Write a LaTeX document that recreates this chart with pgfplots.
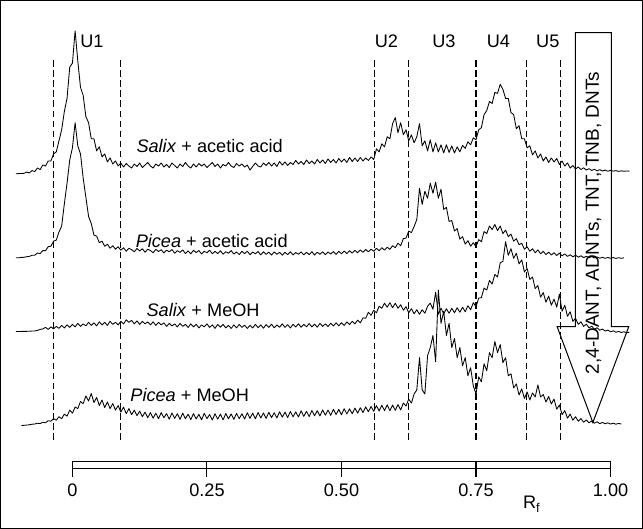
\documentclass[border=0pt]{standalone}
\usepackage{fontspec}
\setmainfont{Liberation Sans}
\usepackage{pgfplots}
\usepackage{pgfplotstable}
\pgfplotsset{compat=1.18}

% x = Rf ; a = Salix+acetic acid, b = Picea+acetic acid, c = Salix+MeOH, d = Picea+MeOH
% (trace heights in picture units, measured downward)
\pgfplotstableread{
x a b c d
-0.105 177.7 261.0 334.0 nan
-0.100 177.5 261.0 334.0 nan
-0.095 177.4 260.6 334.0 427.3
-0.090 177.3 260.5 333.9 427.1
-0.085 176.0 259.9 333.9 426.8
-0.080 176.8 259.6 333.8 426.6
-0.075 174.5 258.5 333.6 426.0
-0.070 175.5 258.4 333.5 425.8
-0.065 172.0 256.3 333.0 425.0
-0.060 173.5 256.8 332.0 425.4
-0.055 169.0 253.8 331.5 424.0
-0.050 170.0 254.0 330.0 424.6
-0.045 165.0 250.0 332.0 422.5
-0.040 165.0 249.5 329.5 423.0
-0.035 158.0 244.5 331.5 420.5
-0.030 156.0 243.5 329.0 422.0
-0.025 145.0 235.5 331.0 418.5
-0.020 134.0 229.5 328.0 420.5
-0.015 116.0 207.5 330.5 416.0
-0.010 103.0 187.0 327.5 418.0
-0.005 72.0 164.0 330.0 412.0
0.000 68.0 152.0 327.0 415.0
0.005 36.0 127.0 329.5 409.0
0.010 66.0 150.0 326.0 410.5
0.015 92.0 158.0 329.0 403.5
0.020 100.0 182.0 326.5 405.5
0.025 121.0 201.0 328.5 398.0
0.030 127.0 220.0 325.0 403.0
0.035 143.0 227.0 328.0 395.5
0.040 143.0 238.5 325.5 404.5
0.045 155.0 239.5 328.5 399.5
0.050 151.0 246.0 324.5 407.5
0.055 161.0 244.5 327.5 402.0
0.060 158.0 249.5 325.0 409.5
0.065 166.0 247.5 328.0 404.0
0.070 162.0 251.5 324.0 410.5
0.075 168.0 249.0 327.0 405.5
0.080 165.0 252.5 325.0 412.0
0.085 170.0 250.0 327.5 407.5
0.090 167.0 253.5 324.0 414.0
0.095 171.0 251.0 326.5 409.0
0.100 167.5 254.5 322.5 415.5
0.105 170.0 251.5 325.0 410.5
0.110 172.0 253.0 323.0 416.5
0.115 168.0 255.0 326.5 412.0
0.120 170.5 251.8 323.5 417.5
0.125 167.0 254.2 327.0 413.0
0.130 171.5 252.0 324.0 418.5
0.135 169.0 255.5 326.5 414.0
0.140 166.5 252.5 324.5 419.5
0.145 170.0 253.8 327.5 414.5
0.150 172.0 256.0 324.5 420.0
0.155 168.0 252.6 328.0 415.0
0.160 170.0 254.8 325.0 420.5
0.165 167.0 253.0 327.5 414.5
0.170 171.0 256.2 325.5 419.5
0.175 168.5 253.4 329.0 415.5
0.180 171.5 255.0 326.0 421.0
0.185 167.0 252.8 328.5 414.8
0.190 169.5 256.5 326.5 420.2
0.195 172.0 254.0 329.5 415.6
0.200 168.0 255.6 326.0 421.2
0.205 170.5 253.2 329.0 415.0
0.210 166.5 256.8 327.0 420.6
0.215 170.0 254.2 330.0 416.0
0.220 172.0 257.0 326.5 421.5
0.225 168.0 253.6 329.5 415.4
0.230 171.0 255.8 327.0 420.8
0.235 167.5 253.8 330.5 416.2
0.240 170.0 257.2 327.5 421.6
0.245 168.0 254.6 329.5 415.2
0.250 171.5 256.0 326.5 420.4
0.255 169.0 253.5 330.0 416.4
0.260 166.5 257.0 327.5 421.8
0.265 170.5 254.6 331.0 415.6
0.270 168.0 256.8 327.0 421.0
0.275 172.0 254.0 329.8 416.0
0.280 168.5 257.4 327.0 421.6
0.285 170.0 255.0 330.5 415.4
0.290 166.5 256.4 328.0 420.6
0.295 170.0 253.9 331.0 415.8
0.300 171.5 257.3 327.5 421.2
0.305 167.5 255.2 330.5 415.2
0.310 170.0 257.8 327.0 420.5
0.315 168.0 254.6 330.0 415.6
0.320 171.0 256.9 327.8 420.8
0.325 169.0 254.4 331.0 414.6
0.330 174.0 258.0 328.0 420.2
0.335 170.5 255.3 330.5 415.0
0.340 167.0 257.0 327.0 420.6
0.345 170.0 254.8 330.2 414.4
0.350 171.0 258.1 327.5 419.8
0.355 167.0 255.0 330.8 414.8
0.360 169.5 257.6 327.2 420.2
0.365 166.5 255.4 330.0 414.2
0.370 170.0 258.3 326.8 419.5
0.375 167.0 255.2 330.4 414.6
0.380 170.5 257.5 327.6 419.8
0.385 165.5 255.6 329.8 413.6
0.390 169.0 258.4 326.5 419.0
0.395 166.0 255.5 330.0 414.0
0.400 169.5 257.9 327.3 419.4
0.405 166.5 255.0 330.5 413.4
0.410 168.5 258.2 327.0 418.6
0.415 164.5 255.8 329.6 413.8
0.420 168.0 257.4 326.4 418.8
0.425 165.5 255.2 329.9 412.8
0.430 168.5 258.0 327.0 418.2
0.435 164.0 255.6 329.4 413.2
0.440 167.5 257.8 326.2 418.4
0.445 165.0 254.9 329.5 412.4
0.450 168.0 258.3 326.8 417.6
0.455 163.5 255.4 329.8 412.6
0.460 167.0 257.6 326.0 417.8
0.465 164.0 255.0 329.0 411.8
0.470 167.5 257.9 326.5 417.0
0.475 163.0 255.3 329.2 412.0
0.480 166.5 257.2 325.8 417.2
0.485 163.5 254.8 328.6 411.2
0.490 167.0 257.6 325.5 416.4
0.495 162.5 254.5 328.4 411.4
0.500 166.0 257.0 325.4 416.6
0.505 163.0 254.3 328.0 410.6
0.510 166.5 256.8 324.6 415.8
0.515 161.5 254.0 327.2 410.8
0.520 165.5 256.4 324.0 415.6
0.525 162.0 253.6 326.5 410.0
0.530 165.5 256.0 322.8 415.0
0.535 161.5 253.2 325.5 409.6
0.540 165.0 255.6 320.5 414.4
0.545 162.0 252.8 321.0 408.8
0.550 164.5 255.0 315.0 413.6
0.555 161.0 252.4 318.0 408.4
0.560 163.5 254.5 313.0 413.2
0.565 153.0 251.6 315.5 407.6
0.570 156.0 254.0 309.0 412.8
0.575 148.0 251.0 311.0 407.2
0.580 151.0 253.4 306.0 412.4
0.585 141.0 250.5 310.0 406.8
0.590 143.0 252.6 305.5 412.6
0.595 128.0 249.0 310.5 407.0
0.600 122.0 251.0 306.0 412.2
0.605 137.0 246.5 311.0 406.5
0.610 127.0 249.0 307.5 411.8
0.615 139.0 242.0 313.0 405.0
0.620 134.0 241.5 309.5 408.0
0.625 145.0 234.5 315.5 401.0
0.630 139.0 236.0 311.5 405.0
0.635 147.0 230.0 316.5 396.0
0.640 141.0 223.0 312.5 392.0
0.645 128.0 192.0 317.0 360.0
0.650 150.0 208.0 312.5 392.0
0.655 145.0 195.0 316.0 396.0
0.660 155.0 202.0 309.0 358.0
0.665 144.0 187.0 306.0 350.0
0.670 156.0 197.0 312.0 338.0
0.675 147.0 186.0 295.0 364.0
0.680 156.0 202.0 317.0 293.0
0.685 149.0 193.0 311.0 326.0
0.690 157.0 213.0 316.5 314.0
0.695 149.0 211.0 311.5 338.0
0.700 156.5 225.0 316.0 326.0
0.705 150.0 224.0 311.0 350.0
0.710 157.0 234.5 315.5 341.0
0.715 151.0 232.0 310.5 360.0
0.720 156.0 242.5 315.0 350.0
0.725 149.5 240.0 310.0 368.0
0.730 152.5 247.5 314.5 360.0
0.735 146.0 244.0 308.5 378.0
0.740 149.0 249.5 312.5 370.0
0.745 142.0 246.0 305.5 388.0
0.750 144.0 250.0 309.5 396.0
0.755 134.0 243.0 301.0 379.0
0.760 132.0 245.0 300.5 384.0
0.765 119.0 235.0 291.0 366.0
0.770 115.0 237.0 293.0 373.0
0.775 106.0 229.5 283.5 355.0
0.780 108.0 233.0 287.0 360.0
0.785 97.0 228.0 277.5 344.0
0.790 98.0 234.0 280.0 355.0
0.795 89.0 229.5 266.0 347.0
0.800 94.0 237.0 264.5 365.0
0.805 103.0 233.5 245.0 360.0
0.810 103.0 240.0 258.5 378.0
0.815 117.0 237.5 252.0 376.0
0.820 119.0 244.5 261.5 390.0
0.825 133.0 242.0 256.5 386.0
0.830 130.0 248.0 267.0 397.0
0.835 143.0 246.5 263.0 391.0
0.840 143.0 252.5 275.0 400.5
0.845 152.0 250.0 271.5 394.0
0.850 150.0 254.5 282.5 402.0
0.855 159.0 252.0 280.0 395.0
0.860 155.0 256.0 291.5 399.0
0.865 162.0 253.2 288.5 387.0
0.870 158.0 257.0 300.0 399.0
0.875 165.0 254.6 295.5 396.5
0.880 161.0 257.8 305.0 404.0
0.885 166.5 255.4 299.0 398.5
0.890 162.0 258.2 308.0 406.0
0.895 166.0 256.0 302.0 401.0
0.900 162.5 258.8 310.0 411.0
0.905 168.5 256.4 297.0 407.0
0.910 165.0 259.0 314.0 416.5
0.915 170.0 257.2 308.0 412.5
0.920 167.0 259.6 319.0 420.0
0.925 172.0 258.0 314.5 416.0
0.930 169.5 260.0 324.0 422.0
0.935 173.0 258.4 321.0 418.6
0.940 171.0 260.4 327.0 423.0
0.945 173.5 259.0 324.5 420.4
0.950 171.8 260.8 329.0 424.0
0.955 174.0 259.5 326.8 421.8
0.960 172.6 261.0 330.4 424.6
0.965 174.4 259.8 328.8 422.8
0.970 173.2 261.2 331.8 425.0
0.975 174.8 260.2 330.4 423.6
0.980 173.6 261.4 332.8 425.4
0.985 175.0 260.5 331.6 424.2
0.990 174.0 261.5 333.6 425.6
0.995 175.2 260.7 332.6 424.6
1.000 174.3 261.5 334.4 425.8
1.005 175.1 260.8 333.4 425.0
1.010 174.6 261.6 334.8 426.0
1.015 175.3 260.9 334.0 425.2
1.020 174.8 261.5 335.0 425.8
1.025 175.2 261.0 334.4 nan
1.030 174.9 nan 335.2 nan
1.035 175.1 nan 334.8 nan
}\traces

\begin{document}
\begin{tikzpicture}[font=\fontsize{18bp}{21bp}\selectfont]
\begin{axis}[
    width=643bp, height=530bp, scale only axis,
    xmin=-0.14377, xmax=1.06148,
    ymin=0, ymax=530, y dir=reverse,
    axis lines=none, clip=false,
    every node/.append style={inner sep=0pt},
]
% frame
\draw[line width=1.2bp] (axis cs:-0.13346,6) rectangle (axis cs:1.05923,529);

% traces
\addplot[black, line width=0.85bp, line join=round, mark=none] table[x=x, y=a] {\traces};
\addplot[black, line width=0.85bp, line join=round, mark=none] table[x=x, y=b] {\traces};
\addplot[black, line width=0.85bp, line join=round, mark=none] table[x=x, y=c] {\traces};
\addplot[black, line width=0.85bp, line join=round, mark=none] table[x=x, y=d] {\traces};

% zone borders
\pgfplotsset{zone/.style={black, line width=1bp, dash pattern=on 6.5bp off 3.5bp, mark=none}}
\addplot[zone] coordinates {(-0.0356,65) (-0.0356,443)};
\addplot[zone] coordinates {(0.0887,65) (0.0887,443)};
\addplot[zone] coordinates {(0.561,65) (0.561,443)};
\addplot[zone] coordinates {(0.624,65) (0.624,443)};
\addplot[zone] coordinates {(0.750,65) (0.750,443)};
\addplot[zone] coordinates {(0.844,65) (0.844,443)};
\addplot[zone] coordinates {(0.907,65) (0.907,443)};

% zone names
\node[anchor=base] at (axis cs:0.0362,52.5) {U1};
\node[anchor=base] at (axis cs:0.5835,52.5) {U2};
\node[anchor=base] at (axis cs:0.6903,52.5) {U3};
\node[anchor=base] at (axis cs:0.7916,52.5) {U4};
\node[anchor=base] at (axis cs:0.8834,52.5) {U5};

% trace names
\node[anchor=base west] at (axis cs:0.1125,156.7) {\textit{Salix} + acetic acid};
\node[anchor=base west] at (axis cs:0.1111,250.5) {\textit{Picea} + acetic acid};
\node[anchor=base west] at (axis cs:0.1312,319.3) {\textit{Salix} + MeOH};
\node[anchor=base west] at (axis cs:0.1012,403.3) {\textit{Picea} + MeOH};

% Rf ruler
\draw[line width=1bp] (axis cs:0,462.7) rectangle (axis cs:1,470);
\draw[line width=1bp] (axis cs:0,462.7) -- (axis cs:0,478);
\draw[line width=1bp] (axis cs:0.25,462.7) -- (axis cs:0.25,478);
\draw[line width=1bp] (axis cs:0.5,462.7) -- (axis cs:0.5,478);
\draw[line width=1bp] (axis cs:0.75,462.7) -- (axis cs:0.75,478);
\draw[line width=1bp] (axis cs:1,462.7) -- (axis cs:1,478);
\node[anchor=base] at (axis cs:0,498) {0};
\node[anchor=base] at (axis cs:0.25,498) {0.25};
\node[anchor=base] at (axis cs:0.5,498) {0.50};
\node[anchor=base] at (axis cs:0.75,498) {0.75};
\node[anchor=base] at (axis cs:1,498) {1.00};
\node[anchor=base west] at (axis cs:0.8309,510) {R\textsubscript{f}};

% arrow
\draw[line width=1bp, line join=miter] (axis cs:0.9346,37.7) -- (axis cs:1.0015,37.7)
  -- (axis cs:1.0015,329.3) -- (axis cs:1.0339,329.3) -- (axis cs:0.9672,424.3)
  -- (axis cs:0.9008,329.3) -- (axis cs:0.9346,329.3) -- cycle;
\node[rotate=90, font=\fontsize{18.8bp}{22bp}\selectfont] at (axis cs:0.9684,226.5) {2,4-DANT, ADNTs, TNT, TNB, DNTs};
\end{axis}
\end{tikzpicture}
\end{document}
